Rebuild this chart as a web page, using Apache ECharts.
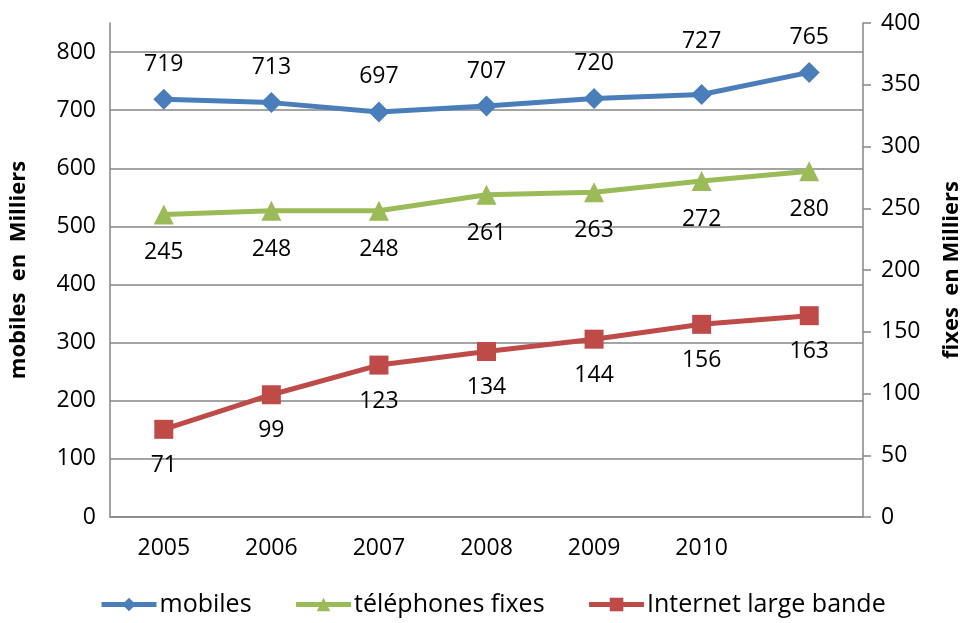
<!DOCTYPE html>
<html>
<head>
<meta charset="utf-8">
<script src="https://cdn.jsdelivr.net/npm/echarts@6/dist/echarts.min.js"></script>
<style>html,body{margin:0;padding:0;background:#fff}#c{width:971px;height:623px}</style>
</head>
<body>
<div id="c"></div>
<script>
var categories = ['2005', '2006', '2007', '2008', '2009', '2010', ''];
var mobiles = [719, 713, 697, 707, 720, 727, 765];
var fixes = [245, 248, 248, 261, 263, 272, 280];
var internet = [71, 99, 123, 134, 144, 156, 163];
var seriesNames = ['mobiles', 't\u00e9l\u00e9phones fixes', 'Internet large bande'];
var leftTicks = [0, 100, 200, 300, 400, 500, 600, 700, 800];

var FONT = '"Open Sans", sans-serif';
var chart = echarts.init(document.getElementById('c'));
var grey = '#868686';

var mobilesData = mobiles.map(function (v, i) {
  return i === 5 ? { value: v, label: { distance: 31 } } : v;
});

chart.setOption({
  animation: false,
  textStyle: { fontFamily: FONT },
  grid: { left: 107, right: 103, top: 23, bottom: 106 },
  legend: {
    bottom: 1,
    left: 94,
    itemWidth: 55,
    itemHeight: 17,
    itemGap: 42,
    lineStyle: { width: 5 },
    textStyle: { fontSize: 25, color: '#000', fontFamily: FONT, padding: [0, 0, 0, -2] },
    data: seriesNames
  },
  xAxis: {
    type: 'category',
    data: categories,
    boundaryGap: true,
    axisLine: { lineStyle: { color: grey, width: 1.5 } },
    axisTick: { show: false },
    axisLabel: { fontSize: 23, color: '#000', margin: 20, interval: 0, fontFamily: FONT }
  },
  yAxis: [
    {
      type: 'value',
      min: 0,
      max: 850,
      interval: 100,
      position: 'left',
      name: 'mobiles  en  Milliers',
      nameLocation: 'middle',
      nameRotate: 90,
      nameGap: 80,
      nameTextStyle: { fontSize: 22, fontWeight: 'bold', color: '#000', fontFamily: FONT },
      axisLine: { show: true, lineStyle: { color: grey, width: 1.5 } },
      axisTick: { show: false },
      axisLabel: {
        fontSize: 23, color: '#000', margin: 14, fontFamily: FONT,
        showMaxLabel: false,
        formatter: function (v) { return leftTicks.indexOf(v) >= 0 ? String(v) : ''; }
      },
      splitLine: { show: true, showMaxLine: false, lineStyle: { color: grey, width: 1.5 } }
    },
    {
      type: 'value',
      min: 0,
      max: 400,
      interval: 50,
      position: 'right',
      name: 'fixes  en Milliers',
      nameLocation: 'middle',
      nameRotate: 90,
      nameGap: 78,
      nameTextStyle: { fontSize: 22, fontWeight: 'bold', color: '#000', fontFamily: FONT },
      axisLine: { show: true, lineStyle: { color: grey, width: 1.5 } },
      axisTick: { show: true, inside: false, length: 8, lineStyle: { color: grey, width: 1.5 } },
      axisLabel: { fontSize: 23, color: '#000', margin: 18, fontFamily: FONT },
      splitLine: { show: false }
    }
  ],
  series: [
    {
      name: seriesNames[0],
      type: 'line',
      yAxisIndex: 0,
      data: mobilesData,
      symbol: 'diamond',
      symbolSize: 21,
      itemStyle: { color: '#4A7EBB' },
      lineStyle: { color: '#4A7EBB', width: 5 },
      label: { show: true, position: 'top', distance: 13, fontSize: 23, color: '#000', fontFamily: FONT }
    },
    {
      name: seriesNames[1],
      type: 'line',
      yAxisIndex: 1,
      data: fixes,
      symbol: 'triangle',
      symbolSize: 20,
      itemStyle: { color: '#9BBB59' },
      lineStyle: { color: '#9BBB59', width: 5 },
      label: { show: true, position: 'bottom', distance: 17, fontSize: 23, color: '#000', fontFamily: FONT }
    },
    {
      name: seriesNames[2],
      type: 'line',
      yAxisIndex: 1,
      data: internet,
      symbol: 'rect',
      symbolSize: 19,
      itemStyle: { color: '#BE4B48' },
      lineStyle: { color: '#BE4B48', width: 5 },
      label: { show: true, position: 'bottom', distance: 15, fontSize: 23, color: '#000', fontFamily: FONT }
    }
  ]
});
</script>
</body>
</html>
